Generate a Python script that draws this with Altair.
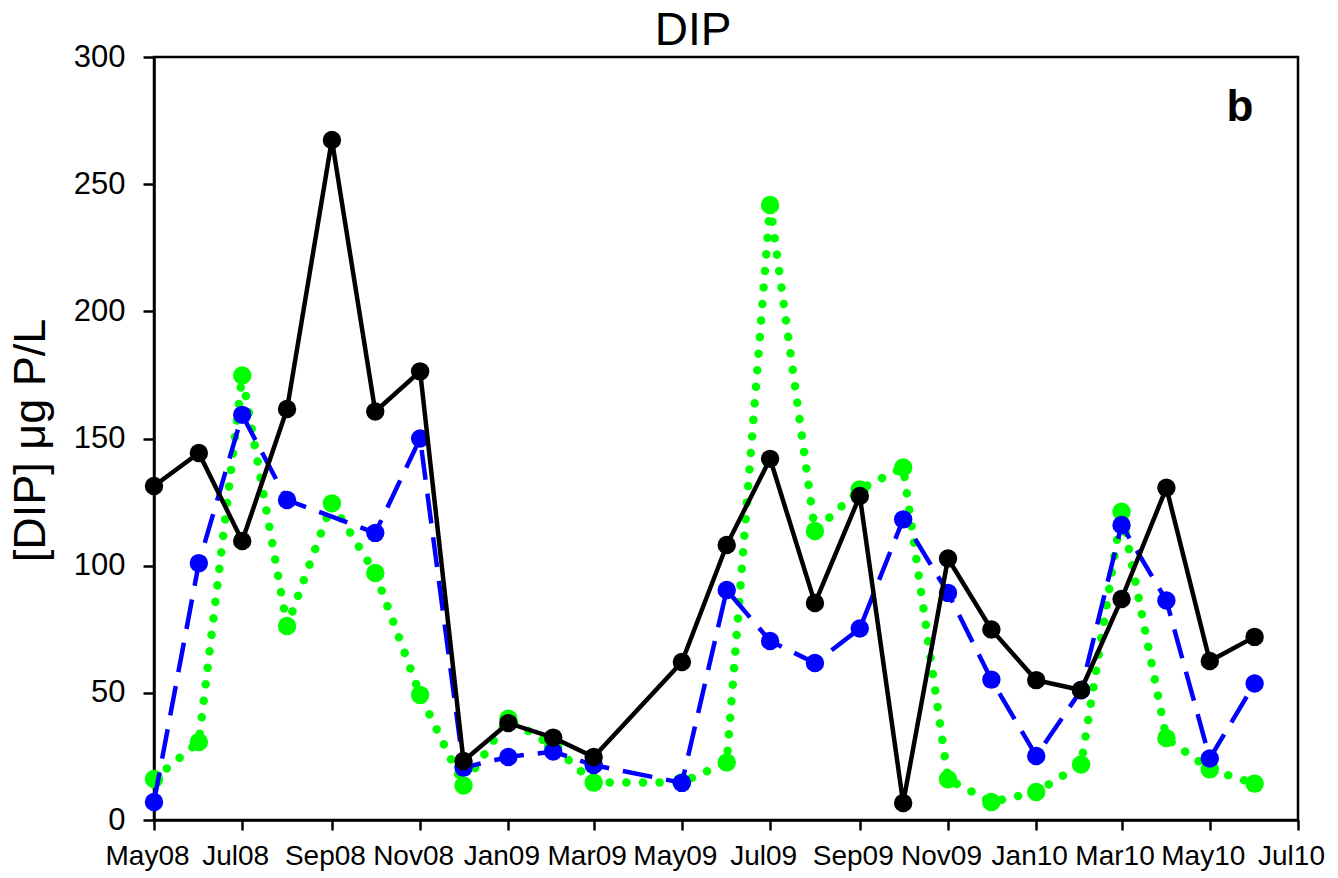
import altair as alt
import pandas as pd

dates = ["2008-05-01", "2008-06-01", "2008-07-01", "2008-08-01", "2008-09-01",
         "2008-10-01", "2008-11-01", "2008-12-01", "2009-01-01", "2009-02-01",
         "2009-03-01", "2009-05-01", "2009-06-01", "2009-07-01", "2009-08-01",
         "2009-09-01", "2009-10-01", "2009-11-01", "2009-12-01", "2010-01-01",
         "2010-02-01", "2010-03-01", "2010-04-01", "2010-05-01", "2010-06-01"]

black = [131.3, 144.3, 109.7, 161.6, 267.4, 160.6, 176.4, 23.2, 38.1, 32.4,
         24.8, 62.1, 108.1, 142.0, 85.3, 127.4, 6.7, 102.8, 74.9, 55.0,
         51.1, 86.9, 130.6, 62.5, 72.0]

blue = [7.1, 101.0, 159.3, 125.8, None, 112.9, 150.0, 20.6, 24.8, 26.9,
        21.6, 14.6, 90.4, 70.4, 61.7, 75.3, 118.2, 89.3, 55.2, 25.2,
        51.0, 116.0, 86.3, 24.2, 53.7]

green = [16.1, 30.7, 174.8, 76.3, 124.5, 97.1, 49.2, 13.6, 39.8, 29.0,
         14.7, 14.8, 22.6, 241.8, 113.6, 130.0, 138.6, 16.0, 7.1, 11.0,
         21.8, 121.2, 32.2, 19.9, 14.3]

y_ticks = [0, 50, 100, 150, 200, 250, 300]
x_tick_months = [(2008, 5), (2008, 7), (2008, 9), (2008, 11), (2009, 1), (2009, 3),
                 (2009, 5), (2009, 7), (2009, 9), (2009, 11), (2010, 1), (2010, 3),
                 (2010, 5), (2010, 7)]

FONT = "Liberation Sans"


def frame(vals):
    return pd.DataFrame([{"date": d, "value": v} for d, v in zip(dates, vals) if v is not None])


x_enc = alt.X(
    "date:T",
    scale=alt.Scale(type="utc",
                    domain=[alt.DateTime(year=2008, month=5, date=1, utc=True),
                            alt.DateTime(year=2010, month=7, date=1, utc=True)]),
    axis=alt.Axis(title=None,
                  labelExpr="utcFormat(datum.value, '%b%y')",
                  values=[alt.DateTime(year=y, month=m, date=1, utc=True) for y, m in x_tick_months],
                  labelFontSize=28, tickSize=10, labelPadding=12, labelOffset=-7,
                  labelFlush=False, labelOverlap=False),
)
y_enc = alt.Y(
    "value:Q",
    scale=alt.Scale(domain=[0, 300], nice=False, zero=True),
    axis=alt.Axis(values=y_ticks, title="[DIP] μg P/L", labelFontSize=31, tickSize=11,
                  labelPadding=18, titleFontSize=45, titleFontWeight="normal",
                  titleAngle=270, titleX=-110, titleY=383, titleAlign="center",
                  titleBaseline="alphabetic"),
)


def series(vals, color, line_kwargs):
    base = alt.Chart(frame(vals)).encode(x=x_enc, y=y_enc)
    line = base.mark_line(color=color, **line_kwargs)
    pts = base.mark_circle(color=color, size=340, opacity=1)
    return line + pts


g = series(green, "#00ff00", dict(strokeWidth=8.5, strokeDash=[0.1, 16.5], strokeCap="round"))
b = series(blue, "#0000ff", dict(strokeWidth=4.5, strokeDash=[30, 14]))
k = series(black, "#000000", dict(strokeWidth=4.5))

title = alt.Chart(pd.DataFrame({"t": ["DIP"]})).mark_text(
    font=FONT, fontSize=46, align="center", baseline="alphabetic", color="black"
).encode(x=alt.value(539), y=alt.value(-12), text="t:N")

label_b = alt.Chart(pd.DataFrame({"t": ["b"]})).mark_text(
    font=FONT, fontSize=44, fontWeight="bold", align="center", baseline="alphabetic", color="black"
).encode(x=alt.value(1086), y=alt.value(64), text="t:N")

chart = alt.layer(g, b, k, title, label_b).properties(
    width=1144, height=763,
    padding={"left": 154, "top": 57, "right": 40, "bottom": 58},
    autosize=alt.AutoSizeParams(type="none"),
    background="white",
).configure_axis(
    grid=False, domainColor="black", domainWidth=2.5, tickColor="black", tickWidth=2.5,
    labelFont=FONT, titleFont=FONT, labelColor="black", titleColor="black",
).configure_view(stroke="black", strokeWidth=2.5)

chart.save("out.html", embed_options={"renderer": "svg", "actions": False})
